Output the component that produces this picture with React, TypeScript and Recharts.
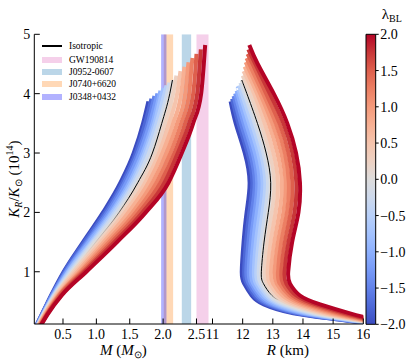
import React from 'react';
import { LineChart, Line, XAxis, YAxis, ReferenceArea } from 'recharts';

// lambda_BL of each anisotropic curve and its coolwarm colour
const lambdaValues = [-2, -1.75, -1.5, -1.25, -1, -0.75, -0.5, -0.25, 0, 0.25, 0.5, 0.75, 1, 1.25, 1.5, 1.75, 2];
const curveColors = [
  '#3b4cc0', '#4d68d7', '#6282ea', '#779af7', '#8db0fe', '#a3c2fe', '#b8d0f9', '#cdd9ec', '#dddcdc',
  '#edd1c2', '#f5c4ad', '#f7b093', '#f49a7b', '#ec7f63', '#de604d', '#c83738', '#b40426',
];

// end point (maximum mass) of each curve
const topK = [3.87, 3.915, 3.96, 4.005, 4.05, 4.095, 4.14, 4.185, 4.23, 4.305, 4.38, 4.455, 4.53, 4.6, 4.67, 4.745, 4.82];
const topMass = [1.78, 1.825, 1.87, 1.915, 1.96, 2.005, 2.05, 2.095, 2.14, 2.2, 2.26, 2.32, 2.38, 2.44, 2.5, 2.565, 2.63];
const topRadius = [11.6, 11.65, 11.7, 11.75, 11.8, 11.84, 11.88, 11.925, 11.97, 12.0, 12.03, 12.065, 12.1, 12.13, 12.16, 12.19, 12.22];

// mass M (Msun) of each curve at these K_R levels (10^14)
const massK = [0.1, 0.3, 0.6, 1.0, 1.5, 2.0, 2.5, 3.0, 3.5, 4.0, 4.5];
const massM200 = [0.1, 0.19, 0.32, 0.51, 0.8, 1.1, 1.36, 1.56, 1.7];
const massM175 = [0.11, 0.19, 0.33, 0.52, 0.82, 1.13, 1.39, 1.59, 1.73];
const massM150 = [0.11, 0.2, 0.33, 0.54, 0.85, 1.16, 1.42, 1.62, 1.77];
const massM125 = [0.11, 0.2, 0.34, 0.55, 0.87, 1.19, 1.45, 1.65, 1.8];
const massM100 = [0.12, 0.21, 0.35, 0.57, 0.89, 1.22, 1.49, 1.69, 1.84];
const massM075 = [0.12, 0.21, 0.36, 0.58, 0.92, 1.24, 1.52, 1.72, 1.87, 1.98];
const massM050 = [0.12, 0.21, 0.36, 0.6, 0.94, 1.27, 1.55, 1.75, 1.9, 2.02];
const massM025 = [0.13, 0.22, 0.37, 0.62, 0.96, 1.3, 1.58, 1.79, 1.94, 2.06];
const massP000 = [0.13, 0.22, 0.38, 0.64, 0.99, 1.34, 1.62, 1.84, 1.98, 2.1];
const massP025 = [0.13, 0.23, 0.39, 0.66, 1.03, 1.38, 1.67, 1.89, 2.03, 2.15];
const massP050 = [0.14, 0.24, 0.4, 0.69, 1.07, 1.43, 1.73, 1.94, 2.09, 2.21];
const massP075 = [0.14, 0.24, 0.42, 0.72, 1.11, 1.48, 1.78, 1.99, 2.15, 2.27];
const massP100 = [0.15, 0.25, 0.43, 0.75, 1.15, 1.54, 1.84, 2.05, 2.21, 2.33];
const massP125 = [0.15, 0.26, 0.44, 0.77, 1.19, 1.59, 1.9, 2.11, 2.27, 2.39, 2.43];
const massP150 = [0.16, 0.27, 0.45, 0.8, 1.23, 1.64, 1.96, 2.17, 2.33, 2.45, 2.49];
const massP175 = [0.17, 0.27, 0.47, 0.82, 1.27, 1.69, 2.02, 2.22, 2.39, 2.51, 2.55];
const massP200 = [0.17, 0.28, 0.48, 0.85, 1.31, 1.74, 2.08, 2.28, 2.45, 2.57, 2.61];

// radius R (km) of each curve at these K_R levels
const radiusK = [0.1, 0.2, 0.3, 0.45, 0.6, 0.8, 1.0, 1.5, 2.0, 2.5, 3.0, 3.5, 4.0, 4.5];
const radM200 = [16.6, 15.1, 13.68, 12.7, 12.3, 12.05, 11.97, 12.03, 12.13, 12.23, 12.07, 11.77];
const radM175 = [16.62, 15.16, 13.78, 12.8, 12.38, 12.13, 12.05, 12.11, 12.22, 12.32, 12.16, 11.86];
const radM150 = [16.64, 15.22, 13.87, 12.89, 12.46, 12.2, 12.12, 12.19, 12.3, 12.4, 12.24, 11.94];
const radM125 = [16.66, 15.28, 13.97, 12.98, 12.54, 12.28, 12.2, 12.27, 12.39, 12.48, 12.33, 12.03];
const radM100 = [16.68, 15.34, 14.06, 13.07, 12.62, 12.35, 12.28, 12.35, 12.47, 12.56, 12.41, 12.11];
const radM075 = [16.7, 15.4, 14.16, 13.18, 12.71, 12.44, 12.37, 12.44, 12.57, 12.66, 12.51, 12.21, 11.9];
const radM050 = [16.72, 15.47, 14.26, 13.28, 12.8, 12.52, 12.45, 12.53, 12.66, 12.75, 12.6, 12.3, 11.97];
const radM025 = [16.74, 15.53, 14.36, 13.38, 12.88, 12.6, 12.53, 12.62, 12.75, 12.84, 12.69, 12.4, 12.06];
const radP000 = [16.77, 15.6, 14.47, 13.49, 12.97, 12.69, 12.62, 12.71, 12.85, 12.93, 12.78, 12.49, 12.14];
const radP025 = [16.8, 15.68, 14.6, 13.62, 13.08, 12.8, 12.72, 12.82, 12.97, 13.05, 12.9, 12.61, 12.26];
const radP050 = [16.82, 15.77, 14.73, 13.75, 13.2, 12.9, 12.83, 12.93, 13.09, 13.17, 13.02, 12.73, 12.38];
const radP075 = [16.85, 15.86, 14.87, 13.89, 13.32, 13.01, 12.94, 13.05, 13.22, 13.3, 13.15, 12.86, 12.48];
const radP100 = [16.88, 15.95, 15.01, 14.03, 13.44, 13.13, 13.06, 13.17, 13.35, 13.42, 13.28, 12.98, 12.58];
const radP125 = [16.91, 16.03, 15.15, 14.16, 13.55, 13.23, 13.17, 13.28, 13.47, 13.53, 13.4, 13.1, 12.68];
const radP150 = [16.94, 16.12, 15.28, 14.29, 13.66, 13.34, 13.28, 13.4, 13.59, 13.65, 13.52, 13.22, 12.78, 12.33];
const radP175 = [16.97, 16.21, 15.42, 14.43, 13.78, 13.45, 13.39, 13.52, 13.72, 13.78, 13.65, 13.35, 12.9, 12.42];
const radP200 = [17.0, 16.3, 15.56, 14.57, 13.9, 13.57, 13.51, 13.64, 13.85, 13.9, 13.77, 13.48, 13.03, 12.5];

// observational mass bands
const bandNames = ['GW190814', 'J0952-0607', 'J0740+6620', 'J0348+0432'];
const bandLow = [2.5, 2.28, 2.01, 1.97];
const bandHigh = [2.68, 2.42, 2.15, 2.05];
const bandColors = ['#e377c2', '#1f77b4', '#ff7f0e', '#0000ff'];
const bandAlpha = [0.35, 0.3, 0.3, 0.3];

// ticks
const massTicks = [0.5, 1.0, 1.5, 2.0, 2.5];
const massMinor = [0.25, 0.75, 1.25, 1.75, 2.25];
const radiusTicks = [11, 12, 13, 14, 15, 16];
const radiusMinor = [11.5, 12.5, 13.5, 14.5, 15.5];
const kTicks = [1, 2, 3, 4, 5];
const kMinor = [0.5, 1.5, 2.5, 3.5, 4.5];
const cbarTicks = [-2, -1.5, -1, -0.5, 0, 0.5, 1, 1.5, 2];

const massDomain = [0.07, 2.74];
const radiusDomain = [11, 16];
const kDomain = [0.12, 5];

const massCurves = [massM200, massM175, massM150, massM125, massM100, massM075, massM050, massM025, massP000,
  massP025, massP050, massP075, massP100, massP125, massP150, massP175, massP200];
const radiusCurves = [radM200, radM175, radM150, radM125, radM100, radM075, radM050, radM025, radP000,
  radP025, radP050, radP075, radP100, radP125, radP150, radP175, radP200];
const isoIndex = 8;

function buildCurve(ks: number[], vals: number[], kTop: number, vTop: number) {
  const pts: { x: number; k: number }[] = [];
  vals.forEach((v, i) => {
    if (ks[i] < kTop) pts.push({ x: v, k: ks[i] });
  });
  pts.push({ x: vTop, k: kTop });
  return pts;
}

const massSeries = massCurves.map((c, i) => buildCurve(massK, c, topK[i], topMass[i]));
const radiusSeries = radiusCurves.map((c, i) => buildCurve(radiusK, c, topK[i], topRadius[i]));

const serif = "'Liberation Serif', serif";
const tickFont = { fontFamily: serif, fontSize: 14, fill: '#000' };
const blank = () => '';

function XLabel({ viewBox, kind }: any) {
  const cx = viewBox.x + viewBox.width / 2;
  const y = viewBox.y + 31;
  return (
    <text x={cx} y={y} textAnchor="middle" fill="#000" style={{ fontFamily: serif, fontSize: 15 }}>
      {kind === 'M' ? (
        <>
          <tspan fontStyle="italic">M</tspan>
          <tspan> (</tspan>
          <tspan fontStyle="italic">M</tspan>
          <tspan fontSize={10} dy={3}>⊙</tspan>
          <tspan dy={-3}>)</tspan>
        </>
      ) : (
        <>
          <tspan fontStyle="italic">R</tspan>
          <tspan> (km)</tspan>
        </>
      )}
    </text>
  );
}

function KLabel({ viewBox }: any) {
  const cx = 19;
  const cy = viewBox.y + viewBox.height / 2;
  return (
    <text x={cx} y={cy} transform={`rotate(-90, ${cx}, ${cy})`} textAnchor="middle" fill="#000" style={{ fontFamily: serif, fontSize: 15 }}>
      <tspan fontStyle="italic">K</tspan>
      <tspan fontStyle="italic" fontSize={10} dy={3}>R</tspan>
      <tspan dy={-3}>/</tspan>
      <tspan fontStyle="italic">K</tspan>
      <tspan fontSize={10} dy={3}>⊙</tspan>
      <tspan dy={-3}> (10</tspan>
      <tspan fontSize={10} dy={-6}>14</tspan>
      <tspan dy={6}>)</tspan>
    </text>
  );
}

function CbarLabel({ viewBox }: any) {
  return (
    <text x={viewBox.x + 6} y={19} fill="#000" style={{ fontFamily: serif, fontSize: 15 }}>
      <tspan>λ</tspan>
      <tspan fontSize={10} dy={3}>BL</tspan>
    </text>
  );
}

function frameAxes(xDomain: number[], xTicks: number[], xMinor: number[], yLabels: boolean, xFmt: (v: number) => string, kind: string) {
  return [
    <XAxis key="bm" xAxisId="bm" type="number" domain={xDomain} allowDataOverflow ticks={xMinor} interval={0}
      tickSize={-3} tickFormatter={blank} height={0} axisLine={false} stroke="#000" />,
    <XAxis key="b" xAxisId="b" dataKey="x" type="number" domain={xDomain} allowDataOverflow ticks={xTicks} interval={0}
      tickSize={-5.5} tickMargin={10.5} height={40} stroke="#000" tick={tickFont} tickFormatter={xFmt}
      label={<XLabel kind={kind} />} />,
    <XAxis key="tm" xAxisId="tm" orientation="top" type="number" domain={xDomain} allowDataOverflow ticks={xMinor} interval={0}
      tickSize={-3} tickFormatter={blank} height={0} axisLine={false} stroke="#000" />,
    <XAxis key="t" xAxisId="t" orientation="top" type="number" domain={xDomain} allowDataOverflow ticks={xTicks} interval={0}
      tickSize={-5.5} tickFormatter={blank} height={0} stroke="#000" />,
    <YAxis key="lm" yAxisId="lm" type="number" domain={kDomain} allowDataOverflow ticks={kMinor} interval={0}
      tickSize={-3} tickFormatter={blank} width={0} axisLine={false} stroke="#000" />,
    <YAxis key="l" yAxisId="l" dataKey="k" type="number" domain={kDomain} allowDataOverflow ticks={kTicks} interval={0}
      tickSize={-5.5} tickMargin={yLabels ? 9.5 : 0} width={yLabels ? 30 : 0} stroke="#000" tick={yLabels ? tickFont : false}
      tickFormatter={yLabels ? (v: number) => String(v) : blank} label={yLabels ? <KLabel /> : undefined} />,
    <YAxis key="rm" yAxisId="rm" orientation="right" type="number" domain={kDomain} allowDataOverflow ticks={kMinor} interval={0}
      tickSize={-3} tickFormatter={blank} width={0} axisLine={false} stroke="#000" />,
    <YAxis key="r" yAxisId="r" orientation="right" type="number" domain={kDomain} allowDataOverflow ticks={kTicks} interval={0}
      tickSize={-5.5} tickFormatter={blank} width={0} stroke="#000" />,
  ];
}

function curves(series: { x: number; k: number }[][], curveType: 'monotone' | 'natural', isoStroke: string) {
  const out = series.map((d, i) => (
    <Line key={'c' + lambdaValues[i]} xAxisId="b" yAxisId="l" data={d} dataKey="k" type={curveType}
      stroke={curveColors[i]} strokeWidth={4} dot={false} activeDot={false} isAnimationActive={false} />
  ));
  out.push(
    <Line key="iso" xAxisId="b" yAxisId="l" data={series[isoIndex]} dataKey="k" type={curveType}
      stroke={isoStroke} strokeWidth={1} dot={false} activeDot={false} isAnimationActive={false} />
  );
  return out;
}

const legendRows = [
  { label: 'Isotropic', y: 46, line: true, color: '#000', alpha: 1 },
  ...bandNames.map((n, i) => ({ label: n, y: 59.5 + i * 12.4, line: false, color: bandColors[i], alpha: bandAlpha[i] })),
];

function hexAlpha(hex: string, a: number) {
  const r = parseInt(hex.slice(1, 3), 16);
  const g = parseInt(hex.slice(3, 5), 16);
  const b = parseInt(hex.slice(5, 7), 16);
  return `rgba(${r},${g},${b},${a})`;
}

export default function App() {
  return (
    <div style={{ position: 'absolute', left: 0, top: 0, width: 415, height: 364, background: '#fff', overflow: 'hidden' }}>
      <div style={{ position: 'absolute', left: 0, top: 0 }}>
        <LineChart width={216} height={364} margin={{ top: 34.3, right: 3.5, bottom: 0, left: 4.3 }}>
          <defs>
            <linearGradient id="isoMass" x1="0" y1="0" x2="0" y2="1">
              <stop offset="0%" stopColor="#000" stopOpacity={1} />
              <stop offset="47%" stopColor="#000" stopOpacity={1} />
              <stop offset="60%" stopColor="#555" stopOpacity={0.35} />
              <stop offset="72%" stopColor="#777" stopOpacity={0} />
              <stop offset="100%" stopColor="#777" stopOpacity={0} />
            </linearGradient>
          </defs>
          {frameAxes(massDomain, massTicks, massMinor, true, (v: number) => v.toFixed(1), 'M')}
          {bandNames.map((n, i) => (
            <ReferenceArea key={n} xAxisId="b" yAxisId="l" x1={bandLow[i]} x2={bandHigh[i]} y1={kDomain[0]} y2={kDomain[1]}
              fill={bandColors[i]} fillOpacity={bandAlpha[i]} stroke="none" ifOverflow="hidden" />
          ))}
          {curves(massSeries, 'monotone', 'url(#isoMass)')}
        </LineChart>
      </div>
      <div style={{ position: 'absolute', left: 200, top: 0 }}>
        <LineChart width={170} height={364} margin={{ top: 34.3, right: 6.7, bottom: 0, left: 12.5 }}>
          <defs>
            <linearGradient id="isoRad" x1="0" y1="0" x2="0" y2="1">
              <stop offset="0%" stopColor="#000" stopOpacity={1} />
              <stop offset="86%" stopColor="#000" stopOpacity={1} />
              <stop offset="90%" stopColor="#000" stopOpacity={0} />
              <stop offset="100%" stopColor="#000" stopOpacity={0} />
            </linearGradient>
          </defs>
          {frameAxes(radiusDomain, radiusTicks, radiusMinor, false, (v: number) => String(v), 'R')}
          {curves(radiusSeries, 'natural', 'url(#isoRad)')}
        </LineChart>
      </div>
      <div style={{ position: 'absolute', left: 360, top: 0 }}>
        <LineChart width={55} height={364} margin={{ top: 34.3, right: 0, bottom: 39.7, left: 6 }}>
          <defs>
            <linearGradient id="cbar" x1="0" y1="0" x2="0" y2="1">
              {curveColors.slice().reverse().map((c, i) => (
                <stop key={i} offset={`${(i / (curveColors.length - 1)) * 100}%`} stopColor={c} />
              ))}
            </linearGradient>
          </defs>
          <XAxis xAxisId="cx" type="number" domain={[0, 1]} hide />
          <YAxis yAxisId="cy" orientation="right" type="number" domain={[-2, 2]} ticks={cbarTicks} interval={0}
            tickSize={3} tickMargin={1.5} width={39.3} axisLine={false} stroke="#000" tick={tickFont}
            tickFormatter={(v: number) => v.toFixed(1).replace('-', '\u2212')} label={<CbarLabel />} />
          <Line xAxisId="cx" yAxisId="cy" data={[{ x: 0, y: -2 }, { x: 1, y: 2 }]} dataKey="y" stroke="none"
            dot={false} activeDot={false} isAnimationActive={false} />
          <ReferenceArea xAxisId="cx" yAxisId="cy" x1={0} x2={1} y1={-2} y2={2} fill="url(#cbar)" fillOpacity={1}
            stroke="#000" strokeWidth={1} />
        </LineChart>
      </div>
      {legendRows.map((r) => (
        <React.Fragment key={r.label}>
          <div style={{
            position: 'absolute', left: 42, width: 20,
            top: r.line ? r.y - 0.75 : r.y - 3, height: r.line ? 1.5 : 6,
            background: r.line ? '#000' : hexAlpha(r.color, r.alpha),
          }} />
          <div style={{
            position: 'absolute', left: 69, top: r.y - 6, height: 12, lineHeight: '12px',
            fontFamily: serif, fontSize: 9.5, color: '#000', whiteSpace: 'nowrap',
          }}>{r.label}</div>
        </React.Fragment>
      ))}
    </div>
  );
}
